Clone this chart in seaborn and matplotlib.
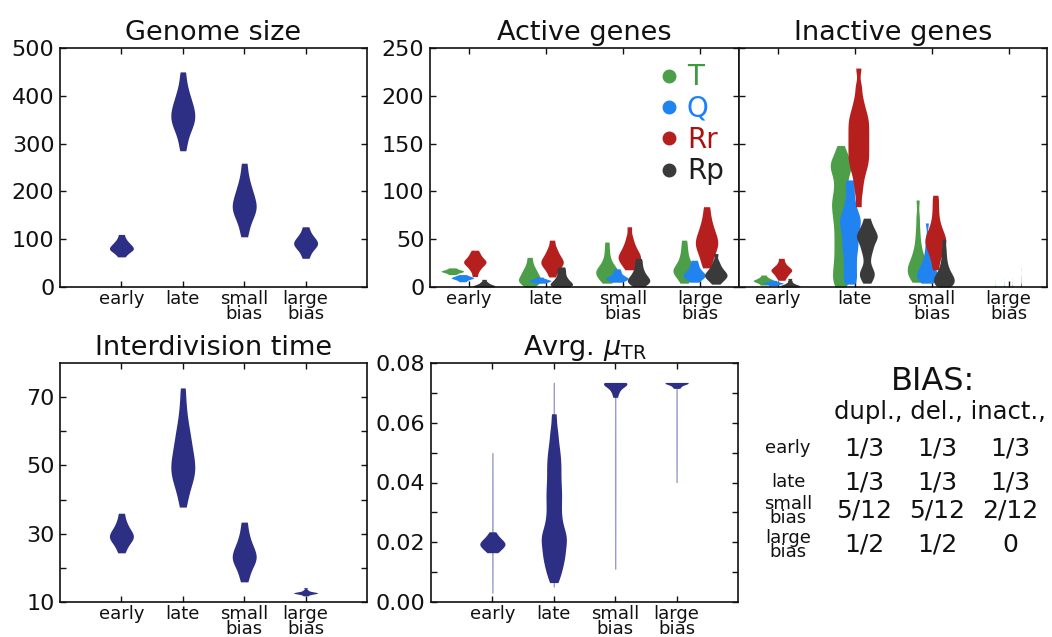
import numpy as np
import pandas as pd
import matplotlib
matplotlib.use("Agg")
import matplotlib.pyplot as plt
import seaborn as sns
from matplotlib.lines import Line2D

# ---------------- data ----------------
categories = ["early", "late", "small\nbias", "large\nbias"]

genome_size = [
    [63, 68.4, 72.4, 75.1, 77.3, 79.2, 80.9, 83, 85.1, 87.5, 90.2, 93.2, 97.1, 102.5, 110],
    [285, 304, 318, 328, 336, 342, 348, 354, 359, 365, 371, 377, 384, 392, 401, 412, 428, 450],
    [105, 123, 136.5, 146, 153, 160, 165.5, 170.7, 177, 183.5, 191, 199, 208, 220, 236, 259],
    [60, 69.3, 76, 80.8, 84.3, 87.8, 90.7, 93.4, 96.4, 100.2, 104, 109, 116, 126],
]

interdivision_time = [
    [24.4, 25.9, 26.9, 27.7, 28.3, 28.8, 29.3, 29.8, 30.4, 31, 31.8, 32.8, 34.1, 36],
    [37.8, 41.1, 43.4, 45, 46.4, 47.5, 48.5, 49.5, 50.7, 51.7, 53.2, 54.4, 55.9, 57.6,
     59.4, 61.3, 64.1, 67.8, 72.7],
    [15.9, 18.1, 19.7, 20.9, 21.8, 22.6, 23.3, 24.1, 25, 25.9, 27.1, 28.6, 30.6, 33.4],
    [11.8, 12.2, 12.4, 12.5, 12.6, 12.65, 12.7, 12.8, 12.9, 13.1, 13.5, 14.2],
]

# bulk of each mu_TR distribution, plus its full (min, max) extent drawn as a faint tail
avrg_mu_tr = [
    [0.0165, 0.0170, 0.01775, 0.0183, 0.0187, 0.0190, 0.01935, 0.01965, 0.0200, 0.0205,
     0.0209, 0.0215, 0.0223, 0.0235],
    [0.0065, 0.009, 0.0105, 0.012, 0.0135, 0.0148, 0.0155, 0.017, 0.018, 0.019, 0.0205,
     0.0212, 0.022, 0.0228, 0.024, 0.0255, 0.027, 0.0285, 0.0305, 0.032, 0.034, 0.0355,
     0.037, 0.039, 0.0405, 0.0425, 0.0445, 0.046, 0.048, 0.050, 0.052, 0.055, 0.058, 0.063],
    [0.0685, 0.0700, 0.0710, 0.0718, 0.0724, 0.0728, 0.0731, 0.0733, 0.0734, 0.0735, 0.0735],
    [0.0715, 0.0722, 0.0727, 0.0731, 0.0733, 0.0734, 0.0735, 0.0735],
]
avrg_mu_tr_range = [(0.003, 0.050), (0.005, 0.0735), (0.011, 0.0735), (0.040, 0.0735)]

gene_types = ["T", "Q", "Rr", "Rp"]

active_T = [
    [13, 14.1, 14.9, 15.5, 15.9, 16.3, 16.7, 17.1, 17.5, 18.1, 18.9, 20],
    [0, 2.5, 4.3, 5.5, 6.8, 8, 9.3, 10.8, 12.5, 14.3, 16.3, 18.5, 21.3, 25.5, 31],
    [4, 7, 9.5, 11.5, 13, 14.5, 16, 17.5, 19, 21, 23.5, 27, 32, 39, 47],
    [4, 8, 11, 13.3, 15, 16.5, 18, 19.5, 21.5, 24, 27, 31, 36, 42, 49],
]
active_Q = [
    [5.5, 6.8, 7.7, 8.4, 8.9, 9.3, 9.7, 10.1, 10.6, 11.2, 11.9, 13],
    [4, 4.8, 5.4, 5.9, 6.3, 6.7, 7.1, 7.6, 8.2, 9, 10.4],
    [5, 6.3, 7.3, 8, 8.6, 9.2, 9.9, 10.7, 11.7, 13, 14.8, 16.8, 19],
    [5, 7.4, 9.2, 10.5, 11.6, 12.6, 13.7, 15, 16.6, 18.6, 21.2, 24.3, 28],
]
active_Rr = [
    [11, 16, 19, 21.3, 23, 24.4, 25.6, 26.5, 27.6, 29, 30.7, 32.8, 35.3, 38.5],
    [10.5, 15.5, 18.8, 21.2, 23.2, 24.8, 26.3, 27.9, 29.8, 32, 34.6, 37.8, 42, 49],
    [18, 22, 25, 27.3, 29.2, 30.8, 32.5, 34.5, 36.8, 39.5, 42.8, 47, 53, 63],
    [20, 27, 32.5, 37, 40.7, 43.8, 46.5, 49.5, 52.8, 56.6, 61, 66.5, 74, 84],
]
active_Rp = [
    [0, 0.3, 0.7, 1.1, 1.6, 2.2, 3, 4, 5.5, 8],
    [0, 0.8, 1.6, 2.5, 3.5, 4.7, 6, 7.6, 9.5, 12, 15, 18, 21],
    [0.5, 2.5, 4, 5.2, 6.3, 7.4, 8.6, 10, 11.6, 13.5, 15.8, 18.6, 22, 26, 30],
    [3, 6, 8, 9.6, 10.9, 12, 13.2, 14.5, 16, 17.8, 20, 23, 27, 35],
]

inactive_T = [
    [2, 3.6, 4.6, 5.4, 6, 6.5, 7, 7.6, 8.3, 9.2, 10.5, 12.5],
    [0, 3, 7, 11, 15, 19, 23, 28, 33, 38, 43, 48, 53, 58, 63, 68, 72, 76, 80, 84, 87,
     90, 94, 98, 103, 108, 113, 118, 122, 125, 127, 129, 132, 136, 141, 148],
    [5, 8, 10.5, 13, 15, 17, 19, 21, 23, 25.5, 28.5, 32, 36.5, 42, 50, 60, 73, 91],
    [0, 0, 0, 0, 0.5, 1, 2, 4, 7],
]
inactive_Q = [
    [1.5, 2.3, 2.9, 3.3, 3.7, 4, 4.3, 4.7, 5.2, 6, 7],
    [3, 7, 12, 17, 22, 27, 32, 37, 41, 45, 49, 53, 57, 61, 64, 67, 70, 73, 76, 80, 85,
     91, 98, 106, 112],
    [4, 6, 8, 9.5, 11, 12.5, 14, 15.5, 17, 19, 21.5, 24.5, 28, 33, 40, 50, 67],
    [0, 0, 0, 0, 0.5, 1, 2, 5, 10],
]
inactive_Rr = [
    [7, 10, 12, 13.8, 15.3, 16.5, 17.5, 18.5, 19.7, 21.2, 23, 26, 30],
    [84, 98, 108, 116, 122, 127, 131, 135, 139, 143, 147, 151, 155, 159, 163, 167, 171,
     175, 179, 184, 190, 198, 210, 229],
    [18, 26, 32, 36.5, 40, 43, 45.5, 48, 50.5, 53, 56, 59.5, 64, 70, 78, 87, 96],
    [0, 0, 0, 0, 0.5, 1, 2, 5, 10],
]
inactive_Rp = [
    [0, 0.3, 0.6, 1, 1.4, 1.9, 2.5, 3.3, 4.5, 6.5, 9],
    [4, 9, 12, 15, 18, 23, 30, 36, 40, 44, 47, 50, 52, 54, 56, 59, 62, 66, 72],
    [0, 1.5, 3, 4.5, 6, 7.5, 9, 10.5, 12, 14, 16.5, 19.5, 23, 28, 34, 41, 50],
    [0, 0, 0, 0, 1, 2, 5, 10, 20],
]

bias_columns = "dupl., del., inact.,"
bias_rows = ["early", "late", "small\nbias", "large\nbias"]
bias_values = [
    ["1/3", "1/3", "1/3"],
    ["1/3", "1/3", "1/3"],
    ["5/12", "5/12", "2/12"],
    ["1/2", "1/2", "0"],
]

# ---------------- style ----------------
NAVY = "#2d2f84"
TAIL = "#9a9bcc"
type_colors = ["#4c9f48", "#2183f0", "#b5201f", "#3a3a3a"]
legend_text_colors = ["#3d9b3d", "#1a80ff", "#aa1212", "#1e1e1e"]

sns.set_style("ticks")
plt.rcParams["font.family"] = ["DejaVu Sans"]
plt.rcParams.update({
    "xtick.direction": "in", "ytick.direction": "in",
    "xtick.major.size": 4.5, "ytick.major.size": 4.5,
    "xtick.major.width": 1.0, "ytick.major.width": 1.0,
    "axes.linewidth": 1.2, "axes.edgecolor": "#111111",
    "text.color": "#111111", "xtick.color": "#111111", "ytick.color": "#111111",
    "xtick.labelcolor": "#111111", "ytick.labelcolor": "#111111",
})

fig = plt.figure(figsize=(10.52, 6.37), dpi=100)
W, H = 1052.0, 637.0


def add_ax(x0, y0, x1, y1, **kw):
    return fig.add_axes([x0 / W, 1 - y1 / H, (x1 - x0) / W, (y1 - y0) / H], **kw)


ax_gen = add_ax(60, 48, 367, 287)
ax_act = add_ax(430, 48, 739, 287)
ax_ina = add_ax(739, 48, 1047, 287, sharey=ax_act)
ax_int = add_ax(60, 363, 367, 602)
ax_mu = add_ax(431, 363, 738, 602)


def bean(ax, pos, vals, color, width, bw):
    df = pd.DataFrame({"pos": np.full(len(vals), float(pos)), "val": vals})
    sns.violinplot(data=df, x="pos", y="val", native_scale=True, orient="x",
                   width=width, color=color, saturation=1, inner=None, cut=0,
                   linewidth=0, linecolor=color, density_norm="width",
                   bw_adjust=bw, ax=ax)


# single-colour panels
for i, vals in enumerate(genome_size):
    bean(ax_gen, i, vals, NAVY, 0.39, 0.6)
for i, vals in enumerate(interdivision_time):
    bean(ax_int, i, vals, NAVY, 0.39, 0.6)
mu_bw = [0.9, 0.35, 1.0, 1.0]
for i, (vals, rng) in enumerate(zip(avrg_mu_tr, avrg_mu_tr_range)):
    bean(ax_mu, i, list(rng), TAIL, 0.025, 1.0)
    bean(ax_mu, i, vals, NAVY, 0.41 if i < 2 else 0.38, mu_bw[i])

# multi-colour panels
act_offsets = [-0.21, -0.08, 0.08, 0.2]
ina_offsets = [-0.18, -0.06, 0.05, 0.16]
for k, series in enumerate([active_T, active_Q, active_Rr, active_Rp]):
    for i, vals in enumerate(series):
        bean(ax_act, i + act_offsets[k], vals, type_colors[k], 0.29, 0.6)
for k, series in enumerate([inactive_T, inactive_Q, inactive_Rr, inactive_Rp]):
    for i, vals in enumerate(series):
        if i == 3:
            bean(ax_ina, i + ina_offsets[k], vals, type_colors[k], 0.012, 0.45)
        else:
            bean(ax_ina, i + ina_offsets[k], vals, type_colors[k], 0.27,
                 0.35 if i == 1 else 0.5)

# axes formatting
for ax in [ax_gen, ax_int, ax_mu]:
    ax.set_xlim(-1, 4)
for ax in [ax_act, ax_ina]:
    ax.set_xlim(-0.5, 3.5)

for ax in [ax_gen, ax_act, ax_ina, ax_int, ax_mu]:
    ax.set_xticks(range(4))
    ax.set_xticklabels(categories, fontsize=13, linespacing=0.8)
    ax.tick_params(axis="x", top=True, pad=2)
    ax.tick_params(axis="y", right=True, labelsize=16, pad=4)
    ax.set_xlabel("")
    ax.set_ylabel("")
    for s in ax.spines.values():
        s.set_visible(True)

ax_gen.set_ylim(0, 500)
ax_gen.set_yticks([0, 100, 200, 300, 400, 500])

ax_act.set_ylim(0, 250)
ax_act.set_yticks([0, 50, 100, 150, 200, 250])
ax_ina.tick_params(axis="y", labelleft=False)

ax_int.set_ylim(10, 80)
ax_int.set_yticks([10, 20, 30, 40, 50, 60, 70])
ax_int.set_yticklabels(["10", "", "30", "", "50", "", "70"])

ax_mu.set_ylim(0, 0.08)
ax_mu.set_yticks([0, 0.01, 0.02, 0.03, 0.04, 0.05, 0.06, 0.07, 0.08])
ax_mu.set_yticklabels(["0.00", "", "0.02", "", "0.04", "", "0.06", "", "0.08"])

title_kw = dict(fontsize=19.5, pad=6)
ax_gen.set_title("Genome size", **title_kw)
ax_act.set_title("Active genes", **title_kw)
ax_ina.set_title("Inactive genes", **title_kw)
ax_int.set_title("Interdivision time", **title_kw)
ax_mu.set_title(r"Avrg. $\mu_{\mathrm{TR}}$", **title_kw)

# legend
handles = [Line2D([], [], ls="", marker="o", markersize=9, color=c) for c in type_colors]
ax_act.legend(handles, gene_types, loc="upper right", frameon=False, fontsize=20,
              labelcolor=legend_text_colors, handlelength=0.6, handletextpad=0.35,
              labelspacing=0.12, borderaxespad=0.15, borderpad=0.4)

# BIAS table
def ftext(x, y, s, **kw):
    fig.text(x / W, 1 - y / H, s, ha="center", va="center", **kw)

ftext(933, 381, "BIAS:", fontsize=23)
ftext(940, 412, bias_columns, fontsize=17.5)
row_y = [448, 482, 511, 545]
col_x = [864, 937, 1010]
for r, (lab, vals) in enumerate(zip(bias_rows, bias_values)):
    ftext(788, row_y[r], lab, fontsize=13, linespacing=0.78)
    for c, v in enumerate(vals):
        ftext(col_x[c], row_y[r], v, fontsize=18)

fig.savefig("out.png", dpi=100)
